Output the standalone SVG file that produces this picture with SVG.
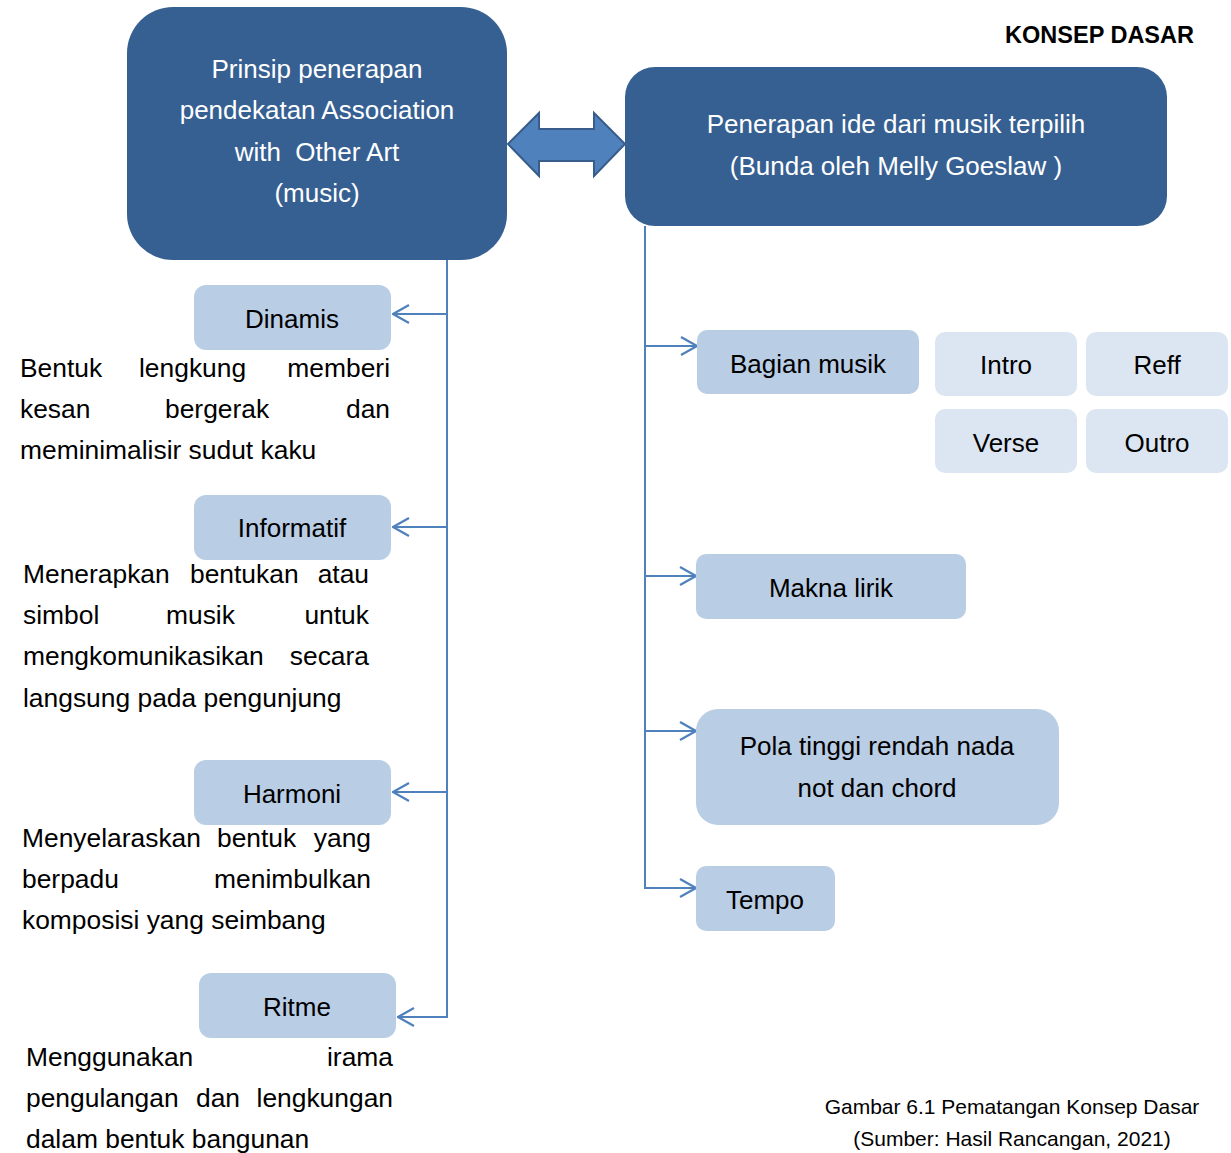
<svg xmlns="http://www.w3.org/2000/svg" width="1231" height="1153" viewBox="0 0 1231 1153">
<style>
text{font-family:"Liberation Sans",Arial,sans-serif;fill:#000}
.w{fill:#fff;font-size:26px;text-anchor:middle}
.b{font-size:26px;text-anchor:middle}
.p{font-size:26.4px}
.e{text-anchor:end}
.dark{fill:#376092}
.mid{fill:#B9CDE5}
.light{fill:#DCE6F2}
.con{stroke:#4F81BD;stroke-width:2;fill:none}
</style>
<defs>
<marker id="ah" markerUnits="userSpaceOnUse" viewBox="0 0 18 20" markerWidth="18" markerHeight="20" refX="17" refY="10" orient="auto">
<path d="M1,1 L17,10 L1,19" fill="none" stroke="#4F81BD" stroke-width="2.2"/>
</marker>
</defs>
<rect width="1231" height="1153" fill="#fff"/>
<text x="1194" y="43" class="e" style="font-size:23.5px;font-weight:bold">KONSEP DASAR</text>

<g id="connectors">
<path class="con" d="M447,260 V1017 H398" marker-end="url(#ah)"/>
<line class="con" x1="447" y1="314" x2="393" y2="314" marker-end="url(#ah)"/>
<line class="con" x1="447" y1="527" x2="393" y2="527" marker-end="url(#ah)"/>
<line class="con" x1="447" y1="792" x2="393" y2="792" marker-end="url(#ah)"/>
<path class="con" d="M645,226 V888 H696" marker-end="url(#ah)"/>
<line class="con" x1="645" y1="346" x2="697" y2="346" marker-end="url(#ah)"/>
<line class="con" x1="645" y1="576" x2="696" y2="576" marker-end="url(#ah)"/>
<line class="con" x1="645" y1="731" x2="696" y2="731" marker-end="url(#ah)"/>
<path id="double-arrow" d="M508,144 L539,113 L539,129 L594,129 L594,113 L625,144 L594,176 L594,161 L539,161 L539,176 Z" fill="#4F81BD" stroke="#385D8A" stroke-width="2"/>
</g>

<g id="prinsip">
<rect class="dark" x="127" y="7" width="380" height="253" rx="46"/>
<text class="w" x="317" y="78">Prinsip penerapan</text>
<text class="w" x="317" y="119">pendekatan Association</text>
<text class="w" x="317" y="161" xml:space="preserve">with  Other Art</text>
<text class="w" x="317" y="202">(music)</text>
</g>

<g id="penerapan">
<rect class="dark" x="625" y="67" width="542" height="159" rx="30"/>
<text class="w" x="896" y="133">Penerapan ide dari musik terpilih</text>
<text class="w" x="896" y="175">(Bunda oleh Melly Goeslaw )</text>
</g>

<g id="dinamis">
<rect class="mid" x="194" y="285" width="197" height="65" rx="12"/>
<text class="b" x="292" y="328">Dinamis</text>
</g>
<g id="dinamis-desc" class="p">
<text x="20" y="377">Bentuk</text><text x="139" y="377">lengkung</text><text x="390" y="377" class="e">memberi</text>
<text x="20" y="418">kesan</text><text x="165" y="418">bergerak</text><text x="390" y="418" class="e">dan</text>
<text x="20" y="459">meminimalisir sudut kaku</text>
</g>

<g id="informatif">
<rect class="mid" x="194" y="495" width="197" height="65" rx="12"/>
<text class="b" x="292" y="537">Informatif</text>
</g>
<g id="informatif-desc" class="p">
<text x="23" y="583">Menerapkan</text><text x="190" y="583">bentukan</text><text x="369" y="583" class="e">atau</text>
<text x="23" y="624">simbol</text><text x="166" y="624">musik</text><text x="369" y="624" class="e">untuk</text>
<text x="23" y="665">mengkomunikasikan</text><text x="369" y="665" class="e">secara</text>
<text x="23" y="707">langsung pada pengunjung</text>
</g>

<g id="harmoni">
<rect class="mid" x="194" y="760" width="197" height="65" rx="12"/>
<text class="b" x="292" y="803">Harmoni</text>
</g>
<g id="harmoni-desc" class="p">
<text x="22" y="847">Menyelaraskan</text><text x="217" y="847">bentuk</text><text x="371" y="847" class="e">yang</text>
<text x="22" y="888">berpadu</text><text x="371" y="888" class="e">menimbulkan</text>
<text x="22" y="929">komposisi yang seimbang</text>
</g>

<g id="ritme">
<rect class="mid" x="199" y="973" width="197" height="65" rx="12"/>
<text class="b" x="297" y="1016">Ritme</text>
</g>
<g id="ritme-desc" class="p">
<text x="26" y="1066">Menggunakan</text><text x="393" y="1066" class="e">irama</text>
<text x="26" y="1107">pengulangan</text><text x="196" y="1107">dan</text><text x="393" y="1107" class="e">lengkungan</text>
<text x="26" y="1148">dalam bentuk bangunan</text>
</g>

<g id="bagian-musik">
<rect class="mid" x="697" y="330" width="222" height="64" rx="10"/>
<text class="b" x="808" y="373">Bagian musik</text>
</g>
<g id="intro">
<rect class="light" x="935" y="332" width="142" height="64" rx="10"/>
<text class="b" x="1006" y="374">Intro</text>
</g>
<g id="reff">
<rect class="light" x="1086" y="332" width="142" height="64" rx="10"/>
<text class="b" x="1157" y="374">Reff</text>
</g>
<g id="verse">
<rect class="light" x="935" y="409" width="142" height="64" rx="10"/>
<text class="b" x="1006" y="452">Verse</text>
</g>
<g id="outro">
<rect class="light" x="1086" y="409" width="142" height="64" rx="10"/>
<text class="b" x="1157" y="452">Outro</text>
</g>
<g id="makna-lirik">
<rect class="mid" x="696" y="554" width="270" height="65" rx="10"/>
<text class="b" x="831" y="597">Makna lirik</text>
</g>
<g id="pola">
<rect class="mid" x="696" y="709" width="363" height="116" rx="22"/>
<text class="b" x="877" y="755">Pola tinggi rendah nada</text>
<text class="b" x="877" y="797">not dan chord</text>
</g>
<g id="tempo">
<rect class="mid" x="696" y="866" width="139" height="65" rx="10"/>
<text class="b" x="765" y="909">Tempo</text>
</g>

<g id="caption" style="font-size:21px;text-anchor:middle">
<text x="1012" y="1114">Gambar 6.1 Pematangan Konsep Dasar</text>
<text x="1012" y="1146">(Sumber: Hasil Rancangan, 2021)</text>
</g>
</svg>
